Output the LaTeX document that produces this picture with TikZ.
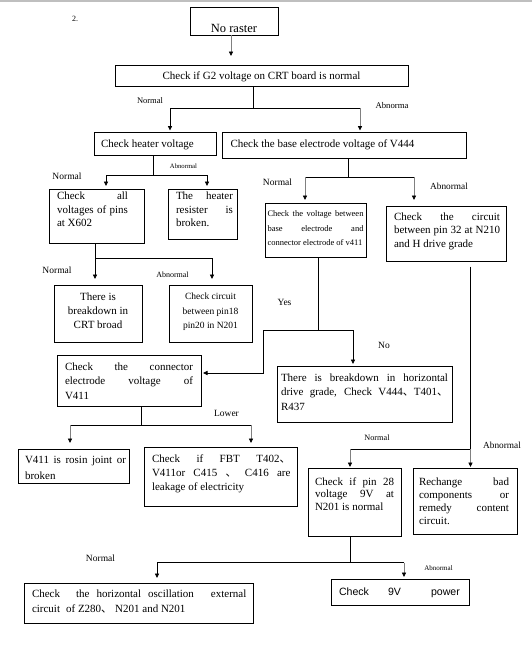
\documentclass[tikz,border=0pt]{standalone}
\usepackage{fontspec}
\setmainfont{Liberation Serif}
\newfontfamily\cjk{Noto Sans CJK SC}
\newfontfamily\arialf{Liberation Sans}
\usetikzlibrary{arrows.meta}
\newcommand\dun{{\cjk 、}}
\newcommand\fsz[2]{\fontsize{#1pt}{#2pt}\selectfont}
\newcommand\ctr{\advance\leftskip by 0pt plus 1fil\advance\rightskip by 0pt plus 1fil\parfillskip=0pt\relax}
% \Bx{name}{x1}{y1}{x2}{y2}{lpad}{rpad}{first baseline}{content}
\newcommand\Bx[9]{%
  \node[bx] (#1) at (#2,#3) {\parbox[c][\dimexpr #5pt-#3pt\relax][t]{\dimexpr #4pt-#2pt\relax}{%
    \leftskip=#6pt\rightskip=#7pt\parindent=0pt\parfillskip=0pt plus 1fil
    \tolerance=10000\hbadness=10000\hyphenpenalty=10000\exhyphenpenalty=10000
    \rule{0pt}{\dimexpr #8pt-#3pt\relax}#9\par}};}
\tikzset{
  bx/.style={draw, line width=0.75pt, inner sep=0pt, outer sep=0pt, anchor=north west},
  arr/.style={-{Triangle[length=4.5pt,width=4.2pt,color=black]}},
  garr/.style={draw=black!50},
  lab/.style={inner sep=0pt, anchor=base}
}
\begin{document}
\begin{tikzpicture}[x=1pt,y=-1pt,line width=0.75pt]
\useasboundingbox (0,0) rectangle (532,651);
\fill[black!25] (0,0) rectangle (532,1.5);
\node[lab,font={\fsz{8}{9}}] (num) at (75,21.5) {2.};
% boxes
\Bx{raster}{190}{7}{278}{35}{0}{0}{32}{\fsz{12.5}{14}\ctr No raster}
\Bx{g2}{115}{65}{408}{86}{0}{0}{79}{\fsz{11}{13.5}\ctr Check if G2 voltage on CRT board is normal}
\Bx{heater}{94}{132}{216}{155}{7}{2}{147.5}{\fsz{11}{13.5}Check heater voltage}
\Bx{base}{222}{132}{466}{158}{8.5}{2}{147.5}{\fsz{11}{13.5}Check the base electrode voltage of V444}
\Bx{checkall}{49}{189}{144}{243}{8}{16}{199.5}{\fsz{11}{13.5}Check all\linebreak voltages of pins\linebreak at X602}
\Bx{heaterres}{168}{189}{237}{239}{8}{4}{199.5}{\fsz{11}{13.5}The heater\linebreak resister is\linebreak broken.}
\Bx{crtbroad}{54}{285}{142}{342}{2}{2}{300}{\fsz{11}{14.2}\ctr There is\break breakdown in\break CRT broad}
\Bx{pin18}{169}{285}{252}{342}{2}{2}{299.8}{\fsz{9.5}{14.2}\ctr Check circuit\break between pin18\break pin20 in N201}
\Bx{vbetween}{265}{203}{366}{257}{2.5}{2.5}{216.8}{\fsz{8.5}{14.2}Check the voltage between\linebreak base electrode and\linebreak connector electrode of v411}
\Bx{pin32}{386}{206}{506}{261}{8}{6}{220.8}{\fsz{11}{13.1}Check the circuit\linebreak between pin 32 at N210\linebreak and H drive grade}
\Bx{connector}{57}{355}{201}{406}{8}{8}{370}{\fsz{11}{14.8}Check the connector\linebreak electrode voltage of\linebreak V411}
\Bx{breakdown}{277}{366}{452}{422}{4}{4}{381}{\fsz{11}{14.8}There is breakdown in horizontal\linebreak drive grade, Check V444\dun T401\dun\linebreak R437}
\Bx{rosin}{18}{449}{129}{483}{7}{3}{463.5}{\fsz{11}{15.5}V411 is rosin joint or\linebreak broken}
\Bx{fbt}{144}{447}{297}{506}{8}{6.5}{462.8}{\fsz{11}{14}Check if FBT T402\dun\linebreak V411or C415 \dun{} C416 are\linebreak leakage of electricity}
\Bx{pin28}{308}{468}{401}{536}{7}{7}{485}{\fsz{11}{12.5}Check if pin 28\linebreak voltage 9V at\linebreak N201 is normal}
\Bx{rechange}{413}{468}{517}{534}{6}{8}{485.5}{\fsz{11}{13}Rechange bad\linebreak components or\linebreak remedy content\linebreak circuit.}
\Bx{osc}{24}{583}{253}{623}{8}{2}{597}{\fsz{11}{15}Check\hspace{16pt}the\hspace{7pt}horizontal\hspace{7pt}oscillation\hspace{17pt}external\\circuit\hspace{6pt}of Z280\dun\hspace{3pt}N201 and N201}
\Bx{ninev}{331}{579}{469}{605}{8}{0}{595.5}{\arialf\fsz{10.6}{13}Check\hspace{19pt}9V\hspace{30pt}power}
% labels
\node[lab,font={\fsz{8.5}{10}}] (l1) at (150,103) {Normal};
\node[lab,font={\fsz{8.7}{10}}] (l2) at (392,108) {Abnorma};
\node[lab,font={\fsz{9.5}{11}}] (l3) at (67,179) {Normal};
\node[lab,font={\fsz{6.7}{8}}] (l4) at (183.5,168) {Abnormal};
\node[lab,font={\fsz{9.5}{11}}] (l5) at (57,273) {Normal};
\node[lab,font={\fsz{8}{9}}] (l6) at (172.5,277.5) {Abnormal};
\node[lab,font={\fsz{9.5}{11}}] (l7) at (277.5,185) {Normal};
\node[lab,font={\fsz{9.3}{11}}] (l8) at (449,189) {Abnormal};
\node[lab,font={\fsz{9.5}{11}}] (l9) at (284.5,305) {Yes};
\node[lab,font={\fsz{9.5}{11}}] (l10) at (384,348) {No};
\node[lab,font={\fsz{9.5}{11}}] (l11) at (226.5,416) {Lower};
\node[lab,font={\fsz{8.2}{10}}] (l12) at (377,440.5) {Normal};
\node[lab,font={\fsz{9.3}{11}}] (l13) at (502,448) {Abnormal};
\node[lab,font={\fsz{9.5}{11}}] (l14) at (100.5,561) {Normal};
\node[lab,font={\fsz{7}{8}}] (l15) at (438.5,570) {Abnormal};
% connectors
\coordinate (xa) at (231,0);
\draw[arr,garr,shorten >=9pt] (raster.south -| xa) -- (xa |- g2.north);
% G2
\coordinate (b0) at (253,108); \coordinate (bl) at (170,108); \coordinate (br) at (360,108);
\draw (g2.south -| b0) -- (b0);
\draw (bl) -- (br);
\draw[arr,shorten >=1.5pt] (bl) -- (bl |- heater.north);
\draw[arr,garr,shorten >=1.5pt] (br) -- (br |- base.north);
% heater
\coordinate (c0) at (153,175); \coordinate (cl) at (106,175); \coordinate (cr) at (207,175);
\draw (heater.south -| c0) -- (c0);
\draw (cl) -- (cr);
\draw[arr,shorten >=3pt] (cl) -- (cl |- checkall.north);
\draw[arr,shorten >=3pt] (cr) -- (cr |- heaterres.north);
% check all
\coordinate (d0) at (95,258); \coordinate (dr) at (212,258);
\draw (checkall.south -| d0) -- (d0) -- (dr);
\draw[arr,shorten >=6pt] (d0) -- (d0 |- crtbroad.north);
\draw[arr,shorten >=6pt] (dr) -- (dr |- pin18.north);
% base
\coordinate (e0) at (348,177); \coordinate (el) at (305,177); \coordinate (er) at (414,177);
\draw (base.south -| e0) -- (e0);
\draw (el) -- (er);
\draw[arr,garr,shorten >=3pt] (el) -- (el |- vbetween.north);
\draw[arr,garr,shorten >=6pt] (er) -- (er |- pin32.north);
% voltage between
\coordinate (f0) at (318,330); \coordinate (fl) at (263,330); \coordinate (fr) at (353,330);
\coordinate (fk) at (263,373);
\draw (vbetween.south -| f0) -- (f0);
\draw (fl) -- (fr);
\draw[arr,shorten >=2pt] (fl) -- (fk) -- (fk -| connector.east);
\draw[arr,shorten >=2pt] (fr) -- (fr |- breakdown.north);
% pin32
\coordinate (g0) at (470.5,449); \coordinate (gl) at (350,449);
\draw[shorten <=5.5pt] (pin32.south -| g0) -- (g0);
\draw (gl) -- (g0);
\draw[arr,garr,shorten >=1pt] (g0) -- (g0 |- rechange.north);
\draw[arr,garr,shorten >=1pt] (gl) -- (gl |- pin28.north);
% connector
\coordinate (h0) at (141,425); \coordinate (hl) at (70,425); \coordinate (hr) at (251,425);
\draw (connector.south -| h0) -- (h0);
\draw (hl) -- (hr);
\draw[arr,garr,shorten >=6pt] (hl) -- (hl |- rosin.north);
\draw[arr,garr,shorten >=4pt] (hr) -- (hr |- fbt.north);
% pin28
\coordinate (i0) at (350,562.5); \coordinate (il) at (157,562.5); \coordinate (ir) at (404,562.5);
\draw (pin28.south -| i0) -- (i0);
\draw (il) -- (ir);
\draw[arr,shorten >=5pt] (il) -- (il |- osc.north);
\draw[arr,garr,shorten >=2pt] (ir) -- (ir |- ninev.north);
\end{tikzpicture}
\end{document}
